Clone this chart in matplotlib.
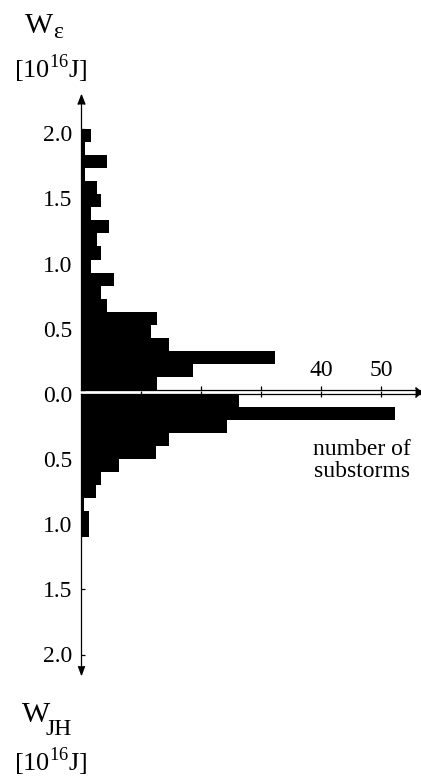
import matplotlib
matplotlib.use("Agg")
import matplotlib.pyplot as plt
import matplotlib.transforms as mtransforms
import numpy as np

plt.rcParams['font.family'] = ['Liberation Serif', 'DejaVu Serif']
plt.rcParams['mathtext.fontset'] = 'custom'
plt.rcParams['mathtext.rm'] = 'Liberation Serif'

# histogram data, bins of 0.1 from 0.0 upward
bin_width = 0.1
we_counts = [12.6, 18.6, 32.3, 14.7, 11.6, 12.6, 4.4, 3.4, 5.5, 1.6,
             3.4, 2.6, 4.6, 1.6, 3.4, 2.6, 0.6, 4.4, 0.6, 1.6]   # W_eps
wjh_counts = [26.3, 52.3, 24.4, 14.6, 12.5, 6.4, 3.3, 2.5, 0.5, 1.4, 1.4]  # W_JH
x_ticks = [10, 20, 30, 40, 50]
x_ticklabels = ['', '', '', '40', '50']
y_ticks = [0.0, 0.5, 1.0, 1.5, 2.0]

W, H = 421, 779
fig = plt.figure(figsize=(W / 100, H / 100), dpi=100)


def fx(x):
    return x / W


def fy(y):
    return 1 - y / H


x0 = 81.0          # pixel of the vertical axis
xscale = 6.0       # px per substorm
yscale = 130.5     # px per 1e16 J
top0, top_tip = 390.0, 95.0
bot0, bot_tip = 393.5, 674.0
xmax = (W - x0) / xscale

ax_top = fig.add_axes([fx(x0), fy(top0), 1 - fx(x0), (top0 - top_tip) / H])
ax_bot = fig.add_axes([fx(x0), fy(bot_tip), 1 - fx(x0), (bot_tip - bot0) / H])

lw = 0.9
# upper histogram
we_edges = np.arange(len(we_counts)) * bin_width
ax_top.barh(we_edges, we_counts, height=bin_width, align='edge', color='black', linewidth=0)
ax_top.set_xlim(0, xmax)
ax_top.set_ylim(0, (top0 - top_tip) / yscale)
# lower histogram (axis pointing down)
jh_edges = np.arange(len(wjh_counts)) * bin_width
ax_bot.barh(jh_edges, wjh_counts, height=bin_width, align='edge', color='black', linewidth=0)
ax_bot.set_xlim(0, xmax)
ax_bot.set_ylim((bot_tip - bot0) / yscale, 0)

for ax in (ax_top, ax_bot):
    ax.patch.set_visible(False)
    for s in ax.spines.values():
        s.set_linewidth(lw)
    ax.spines['right'].set_visible(False)
ax_top.spines['top'].set_visible(False)
ax_bot.spines['bottom'].set_visible(False)

# y ticks
ax_top.set_yticks(y_ticks)
ax_top.set_yticklabels(['%.1f' % v for v in y_ticks])
ax_bot.set_yticks(y_ticks[1:])
ax_bot.set_yticklabels(['%.1f' % v for v in y_ticks[1:]])
for ax in (ax_top, ax_bot):
    ax.tick_params(axis='y', direction='in', length=3, width=lw, pad=6.5, labelsize=17)
shift = mtransforms.ScaledTranslation(0, -4 / 100, fig.dpi_scale_trans)
for lab in ax_top.get_yticklabels():
    lab.set_transform(lab.get_transform() + shift)

# x ticks across the double line
ax_top.set_xticks(x_ticks)
ax_top.tick_params(axis='x', direction='in', length=3, width=lw, labelbottom=False)
ax_bot.xaxis.tick_top()
ax_bot.set_xticks(x_ticks)
ax_bot.set_xticklabels(x_ticklabels)
ax_bot.tick_params(axis='x', direction='inout', length=5, width=lw, pad=6.7, labelsize=17)

# arrow heads
ax_top.plot([1.0], [-(bot0 - top0) / 2 / yscale], marker=[(-1.2, -1), (0, 0), (-1.2, 1)],
            ms=8.6, color='black', transform=ax_top.get_yaxis_transform(), clip_on=False)
ax_top.plot([0], [1.0], marker=[(-0.39, -1), (0, 0), (0.39, -1)], ms=13,
            color='black', transform=ax_top.get_xaxis_transform(), clip_on=False)
ax_bot.plot([0], [0.0], marker=[(-0.37, 1), (0, 0), (0.37, 1)], ms=12,
            color='black', transform=ax_bot.get_xaxis_transform(), clip_on=False)

# labels
fig.text(fx(25), fy(33), 'W', fontsize=21.5, ha='left', va='baseline')
fig.text(fx(53), fy(38.5), '\u03b5', fontsize=17, ha='left', va='baseline')
fig.text(fx(50.5), fy(78), '[10$^{\\mathrm{16}}$J]', fontsize=19, ha='center', va='baseline')

fig.text(fx(22), fy(722), 'W', fontsize=21.5, ha='left', va='baseline')
fig.text(fx(45), fy(735), 'JH', fontsize=17, ha='left', va='baseline')
fig.text(fx(50.5), fy(771), '[10$^{\\mathrm{16}}$J]', fontsize=19, ha='center', va='baseline')

fig.text(fx(362), fy(455), 'number of', fontsize=17, ha='center', va='baseline')
fig.text(fx(362), fy(477), 'substorms', fontsize=17, ha='center', va='baseline')

fig.savefig('out.png', dpi=100)
